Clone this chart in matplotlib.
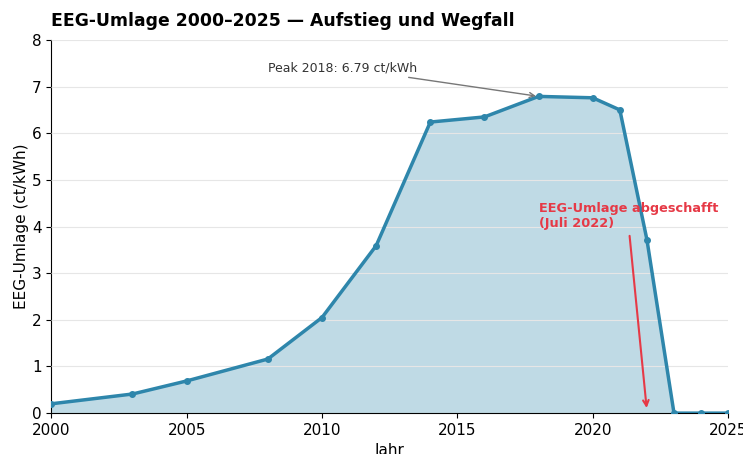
import matplotlib
matplotlib.use("Agg")
import matplotlib.pyplot as plt

years = [2000, 2003, 2005, 2008, 2010, 2012, 2014, 2016, 2018, 2020, 2021, 2022, 2023, 2024, 2025]
values = [0.20, 0.41, 0.69, 1.16, 2.05, 3.59, 6.24, 6.35, 6.79, 6.76, 6.50, 3.72, 0.0, 0.0, 0.0]

color = "#2E86AB"
fig, ax = plt.subplots(figsize=(7.43, 4.54), dpi=100)
fig.subplots_adjust(left=0.069, right=0.980, top=0.912, bottom=0.09)

ax.fill_between(years, values, color=color, alpha=0.3, linewidth=0, zorder=1)
ax.plot(years, values, color=color, linewidth=2.5, marker="o", markersize=4, zorder=3)

ax.set_xlim(2000, 2025)
ax.set_ylim(0, 8)
ax.set_xticks([2000, 2005, 2010, 2015, 2020, 2025])
ax.tick_params(labelsize=11)
ax.grid(axis="y", color="#e6e6e6", linewidth=0.8, zorder=2)
ax.set_axisbelow(False)
for s in ["top", "right"]:
    ax.spines[s].set_visible(False)

ax.set_xlabel("Jahr", fontsize=11)
ax.set_ylabel("EEG-Umlage (ct/kWh)", fontsize=11, labelpad=2)
ax.set_title("EEG-Umlage 2000–2025 — Aufstieg und Wegfall", fontsize=12.4,
             fontweight="bold", loc="left", pad=10)

ax.annotate("Peak 2018: 6.79 ct/kWh", xy=(2018, 6.79), xytext=(2008, 7.33),
            fontsize=9, color="#333333",
            arrowprops=dict(arrowstyle="->", color="#777777", lw=1))
ax.text(2018, 3.92, "EEG-Umlage abgeschafft\n(Juli 2022)", fontsize=9.3,
        fontweight="bold", color="#E63946", va="bottom", ha="left")
ax.annotate("", xy=(2022, 0.05), xytext=(2021.35, 3.86),
            arrowprops=dict(arrowstyle="->", color="#E63946", lw=1.5))

fig.savefig("out.png", dpi=100)
